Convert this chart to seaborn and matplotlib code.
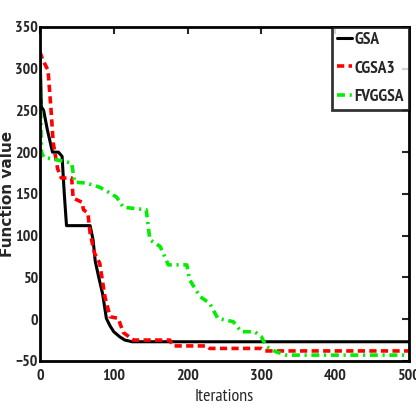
import matplotlib
matplotlib.use("Agg")
import matplotlib.pyplot as plt
import seaborn as sns

# Data
gsa_x = [0, 2, 5, 10, 17, 25, 30, 33, 36, 68, 72, 75, 80, 85, 90, 95, 100, 108, 115, 125, 500]
gsa_y = [320, 254, 250, 227, 200, 200, 195, 150, 112, 112, 95, 69, 49, 30, 1, -8, -15, -21, -25, -27, -27]

cgsa_x = [0, 4, 11, 15, 18, 24, 29, 43, 45, 57, 59, 65, 68, 74, 81, 88, 95, 106, 113, 127, 176, 180, 226, 230, 300, 305, 500]
cgsa_y = [320, 310, 298, 251, 211, 180, 169, 169, 145, 140, 131, 127, 103, 79, 67, 27, 3, 1, -16, -25, -25, -32, -32, -35, -35, -38, -38]

fv_x = [0, 1, 2, 5, 43, 47, 63, 81, 95, 104, 113, 144, 149, 163, 174, 199, 203, 217, 230, 241, 262, 273, 291, 300, 307, 320, 334, 500]
fv_y = [320, 250, 200, 194, 187, 164, 163, 158, 151, 146, 134, 131, 95, 87, 65, 65, 47, 27, 19, 1, -3, -15, -15, -21, -33, -39, -43, -43]

xticks = [0, 100, 200, 300, 400, 500]
yticks = [-50, 0, 50, 100, 150, 200, 250, 300, 350]

sns.set_style("white")
plt.rcParams['font.family'] = ['PT Sans Narrow', 'Archivo Narrow', 'DejaVu Sans']

fig = plt.figure(figsize=(4.16, 4.13), dpi=100)
ax = fig.add_axes([0.096, 0.126, 0.887, 0.809])

sns.lineplot(x=gsa_x, y=gsa_y, ax=ax, color='black', lw=2.2, label='GSA', sort=False)
sns.lineplot(x=cgsa_x, y=cgsa_y, ax=ax, color='#ff0000', lw=2.6, label='CGSA3', sort=False,
             linestyle=(0, (2, 1.2)))
sns.lineplot(x=fv_x, y=fv_y, ax=ax, color='#00ee00', lw=2.6, label='FVGGSA', sort=False,
             linestyle=(0, (2.2, 1.3, 0.6, 1.3)))

ax.set_xlim(0, 500)
ax.set_ylim(-50, 350)
ax.set_xticks(xticks)
ax.set_yticks(yticks)
ax.tick_params(direction='in', length=5, width=1.5, top=True, right=True,
               labelsize=11.5)
ax.tick_params(axis='x', pad=6)
ax.tick_params(axis='y', pad=1.5)
for lab in ax.get_xticklabels() + ax.get_yticklabels():
    lab.set_fontweight('bold')
for s in ax.spines.values():
    s.set_linewidth(2)
    s.set_color('black')

ax.set_xlabel('Iterations', fontsize=13)
ax.set_ylabel('Function value', fontsize=11, fontweight='bold',
              family=['DejaVu Sans'])
ax.yaxis.set_label_coords(-0.067, 0.5)
ax.xaxis.set_label_coords(0.5, -0.085)

leg = ax.legend(loc='upper right', fontsize=12.5, frameon=True, fancybox=False,
                handlelength=0.9, handletextpad=0.1, borderpad=0.3,
                labelspacing=0.7, borderaxespad=0)
leg.get_frame().set_edgecolor('black')
leg.get_frame().set_linewidth(2)
for t in leg.get_texts():
    t.set_fontweight('bold')

fig.savefig('out.png', dpi=100)
